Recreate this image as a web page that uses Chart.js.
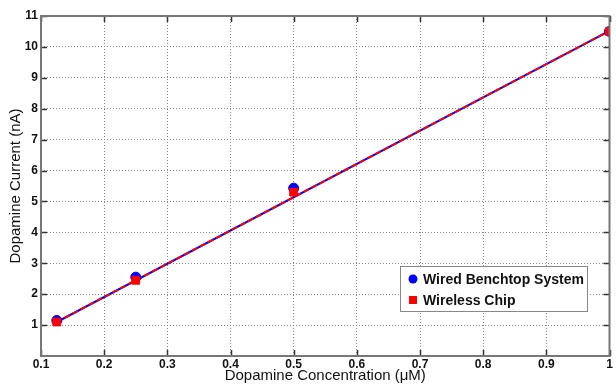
<!DOCTYPE html>
<html>
<head>
<meta charset="utf-8">
<script src="https://cdn.jsdelivr.net/npm/chart.js@4/dist/chart.umd.min.js"></script>
<style>
  html, body { margin: 0; padding: 0; background: #fff; }
  #wrap { width: 616px; height: 385px; }
</style>
</head>
<body>
<div id="wrap"><canvas id="chart" width="616" height="385"></canvas></div>
<script>
// Data
const concentrations = [0.125, 0.25, 0.5, 1];
const wiredCurrent = [1.15, 2.55, 5.43, 10.5];
const wirelessCurrent = [1.1, 2.45, 5.3, 10.5];
// linear fit endpoints
const fitX = [0.125, 1];
const wiredFit = [1.1, 10.52];
const wirelessFit = [1.1, 10.52];

const xTicks = [0.1, 0.2, 0.3, 0.4, 0.5, 0.6, 0.7, 0.8, 0.9, 1];
const yTicks = [1, 2, 3, 4, 5, 6, 7, 8, 9, 10, 11];

const legendItems = [
    { label: 'Wired Benchtop System', color: '#0000ff', shape: 'circle' },
    { label: 'Wireless Chip', color: '#ff0000', shape: 'square' }
];

const FONT = '"Liberation Sans", Arial, sans-serif';

function toPoints(xs, ys) {
    return xs.map((x, i) => ({ x: x, y: ys[i] }));
}

// frame, inward ticks and legend box
const framePlugin = {
    id: 'frame',
    afterDraw(chart) {
        const ctx = chart.ctx;
        const a = chart.chartArea;
        const xs = chart.scales.x;
        const ys = chart.scales.y;
        ctx.save();
        // inward tick marks
        ctx.strokeStyle = '#333';
        ctx.lineWidth = 1.5;
        ctx.beginPath();
        xTicks.forEach(v => {
            const px = Math.round(xs.getPixelForValue(v)) + 0.5;
            ctx.moveTo(px, a.bottom); ctx.lineTo(px, a.bottom - 6);
            ctx.moveTo(px, a.top); ctx.lineTo(px, a.top + 6);
        });
        yTicks.forEach(v => {
            const py = Math.round(ys.getPixelForValue(v)) + 0.5;
            ctx.moveTo(a.left, py); ctx.lineTo(a.left + 6, py);
            ctx.moveTo(a.right, py); ctx.lineTo(a.right - 6, py);
        });
        ctx.stroke();
        // box
        ctx.strokeStyle = '#777';
        ctx.lineWidth = 2;
        ctx.strokeRect(a.left, a.top, a.right - a.left, a.bottom - a.top);

        // legend
        const lx = 400, ly = 266, lw = 187, lh = 45;
        ctx.fillStyle = '#fff';
        ctx.fillRect(lx, ly, lw, lh);
        ctx.strokeStyle = '#888';
        ctx.lineWidth = 1;
        ctx.strokeRect(lx + 0.5, ly + 0.5, lw, lh);
        ctx.font = 'bold 14px ' + FONT;
        ctx.textBaseline = 'middle';
        legendItems.forEach((item, i) => {
            const cy = ly + 13 + i * 21;
            ctx.fillStyle = item.color;
            if (item.shape === 'circle') {
                ctx.beginPath();
                ctx.arc(lx + 13, cy, 4.5, 0, Math.PI * 2);
                ctx.fill();
            } else {
                ctx.fillRect(lx + 9, cy - 4, 8, 8);
            }
            ctx.fillStyle = '#111';
            ctx.fillText(item.label, lx + 23, cy + 1);
        });
        ctx.restore();
    }
};

const ctx = document.getElementById('chart');
new Chart(ctx, {
    type: 'scatter',
    data: {
        datasets: [
            {
                label: 'Wireless Chip fit',
                type: 'line',
                data: toPoints(fitX, wirelessFit),
                borderColor: '#ff0000',
                borderWidth: 2,
                borderDash: [6, 3],
                pointRadius: 0,
                fill: false,
                order: 2
            },
            {
                label: 'Wired Benchtop System fit',
                type: 'line',
                data: toPoints(fitX, wiredFit),
                borderColor: '#0000ff',
                borderWidth: 2,
                pointRadius: 0,
                fill: false,
                order: 3
            },
            {
                label: 'Wireless Chip',
                data: toPoints(concentrations, wirelessCurrent),
                backgroundColor: '#ff0000',
                borderColor: '#ff0000',
                pointStyle: 'rect',
                pointRadius: 5.5,
                order: 0
            },
            {
                label: 'Wired Benchtop System',
                data: toPoints(concentrations, wiredCurrent),
                backgroundColor: '#0000ff',
                borderColor: '#0000ff',
                pointStyle: 'circle',
                pointRadius: 5,
                order: 1
            }
        ]
    },
    options: {
        responsive: false,
        animation: false,
        layout: { padding: { top: 16, right: 3, left: 7, bottom: 0 } },
        plugins: {
            legend: { display: false },
            tooltip: { enabled: false }
        },
        scales: {
            x: {
                type: 'linear',
                min: 0.1,
                max: 1,
                afterBuildTicks: s => { s.ticks = xTicks.map(v => ({ value: v })); },
                afterFit: s => { s.height = 29; },
                grid: {
                    color: '#888',
                    lineWidth: 1,
                    drawTicks: false
                },
                border: { display: false, dash: [1, 2] },
                ticks: {
                    padding: 1,
                    color: '#111',
                    font: { family: FONT, size: 12, weight: 'bold' },
                    callback: v => String(v),
                    maxRotation: 0
                },
                title: {
                    display: true,
                    text: 'Dopamine Concentration (\u03bcM)',
                    color: '#111',
                    font: { family: FONT, size: 15 },
                    padding: { top: 0, bottom: 0 }
                }
            },
            y: {
                type: 'linear',
                min: 0,
                max: 11,
                afterBuildTicks: s => { s.ticks = yTicks.map(v => ({ value: v })); },
                afterFit: s => { s.width = 34; },
                grid: {
                    color: '#888',
                    lineWidth: 1,
                    drawTicks: false
                },
                border: { display: false, dash: [1, 2] },
                ticks: {
                    padding: 3,
                    color: '#111',
                    font: { family: FONT, size: 12, weight: 'bold' }
                },
                title: {
                    display: true,
                    text: 'Dopamine Current (nA)',
                    color: '#111',
                    font: { family: FONT, size: 15 },
                    padding: { top: 0, bottom: 0 }
                }
            }
        }
    },
    plugins: [framePlugin]
});
</script>
</body>
</html>
